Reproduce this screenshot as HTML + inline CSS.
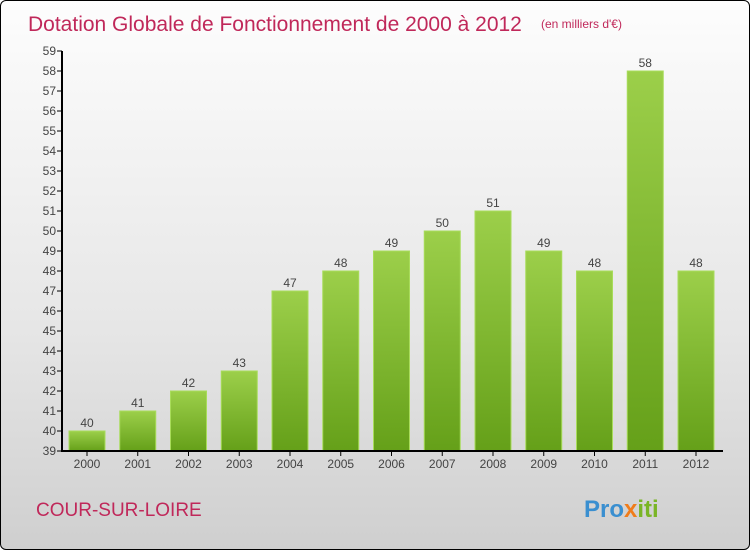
<!DOCTYPE html>
<html><head><meta charset="utf-8"><style>
html,body{margin:0;padding:0;}
body{width:750px;height:550px;overflow:hidden;font-family:"Liberation Sans",sans-serif;}
#wrap{position:absolute;left:0;top:0;width:748px;height:548px;border:1px solid #000;border-radius:6px;background:linear-gradient(#fdfdfd,#e6e6e6 60%,#cfcfcf);overflow:hidden;}
</style></head><body>
<div id="wrap">
<svg width="750" height="550" id="chart">
<defs><linearGradient id="bg" x1="0" y1="0" x2="0" y2="1"><stop offset="0" stop-color="#9ccf4a"/><stop offset="1" stop-color="#65a019"/></linearGradient></defs>
<text x="27" y="30" font-size="21" fill="#c0285a">Dotation Globale de Fonctionnement de 2000 à 2012</text>
<text x="540" y="27" font-size="12" fill="#c0285a">(en milliers d'€)</text>
<text x="35" y="515" font-size="19" fill="#c0285a">COUR-SUR-LOIRE</text>
<text x="583" y="516" font-size="24" font-weight="bold" fill="#3a8fd0">Pro<tspan fill="#f07c1a">x</tspan><tspan fill="#7ab526">iti</tspan></text>
<g id="g"></g>
</svg></div>
<script>
const years=["2000","2001","2002","2003","2004","2005","2006","2007","2008","2009","2010","2011","2012"];
const values=[40,41,42,43,47,48,49,50,51,49,48,58,48];
const yTicks=[39,40,41,42,43,44,45,46,47,48,49,50,51,52,53,54,55,56,57,58,59];
const NS="http://www.w3.org/2000/svg",g=document.getElementById('g');
const y=v=>450-(v-39)*20, x=i=>86+i*50.75;
function mk(t,a){const e=document.createElementNS(NS,t);for(const k in a)e.setAttribute(k,a[k]);g.appendChild(e);return e;}
yTicks.forEach(v=>{
 const l=mk('line',{x1:56,x2:61,y1:y(v),y2:y(v),stroke:'#000'});
 
 
 const t=mk('text',{x:55,y:y(v)+4,'font-size':12,'text-anchor':'end',fill:'#444'});t.textContent=v;
 
 
});
values.forEach((v,i)=>{
 const r=mk('rect',{x:x(i)-18,y:y(v),width:36,height:450-y(v),fill:'url(#bg)',stroke:'#a8dc5a','stroke-width':1});
 
 
 const t=mk('text',{x:x(i),y:y(v)-4,'font-size':12,'text-anchor':'middle',fill:'#444'});t.textContent=v;
 
 
 const k=mk('line',{x1:x(i),x2:x(i),y1:450,y2:455,stroke:'#000'});
 
 
 const xl=mk('text',{x:x(i),y:467,'font-size':12,'text-anchor':'middle',fill:'#444'});xl.textContent=years[i];
 
 
});
const ya=mk('line',{x1:61,x2:61,y1:50,y2:450,stroke:'#000','stroke-width':2});


const xa=mk('line',{x1:60,x2:722,y1:450,y2:450,stroke:'#000','stroke-width':2});


</script>
</body></html>
